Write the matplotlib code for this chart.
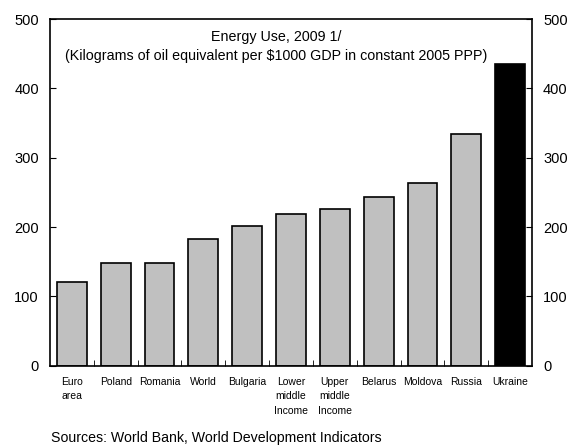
import matplotlib.pyplot as plt
import numpy as np

plt.rcParams['font.family'] = ['Liberation Sans Narrow', 'Liberation Sans', 'DejaVu Sans']

categories = ['Euro\narea', 'Poland', 'Romania', 'World', 'Bulgaria', 'Lower\nmiddle\nIncome',
              'Upper\nmiddle\nIncome', 'Belarus', 'Moldova', 'Russia', 'Ukraine']
energy_use = [121, 148, 148, 183, 202, 219, 226, 243, 264, 335, 436]
bar_colors = ['#c0c0c0'] * 10 + ['black']
y_ticks = [0, 100, 200, 300, 400, 500]

fig = plt.figure(figsize=(5.76, 4.46), dpi=100)
ax = fig.add_axes([0.0868, 0.18, 0.8368, 0.777])

x = np.arange(len(categories))
ax.bar(x, energy_use, width=0.68, color=bar_colors, edgecolor='black', linewidth=1.2)

ax.set_xlim(-0.5, len(categories) - 0.5)
ax.set_ylim(0, 500)
ax.set_yticks(y_ticks)
ax.tick_params(axis='y', direction='in', length=4, labelsize=10.5, pad=8,
               left=True, right=True, labelleft=True, labelright=True)

# category labels sit between boundary ticks
ax.set_xticks(x)
ax.set_xticklabels(categories, fontsize=7.5, linespacing=1.55, va='top')
ax.tick_params(axis='x', length=0, pad=8)
ax.set_xticks(x[:-1] + 0.5, minor=True)
ax.tick_params(axis='x', which='minor', direction='in', length=4)

for side in ['left', 'right', 'top', 'bottom']:
    ax.spines[side].set_linewidth(1.2)

ax.text(0.47, 0.97, 'Energy Use, 2009 1/\n(Kilograms of oil equivalent per $1000 GDP in constant 2005 PPP)',
        transform=ax.transAxes, ha='center', va='top', fontsize=10.3, linespacing=1.45)

fig.text(0.088, 0.01, 'Sources: World Bank, World Development Indicators', fontsize=10.2)

plt.savefig('out.png', dpi=100)
